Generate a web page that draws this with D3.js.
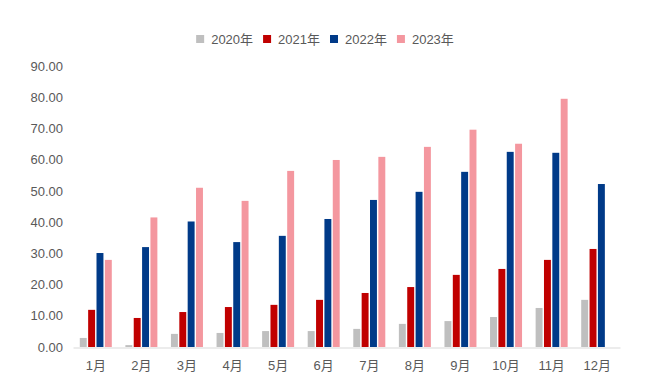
<!DOCTYPE html>
<html>
<head>
<meta charset="utf-8">
<script src="https://cdn.jsdelivr.net/npm/d3@7"></script>
<style>
  body { margin: 0; background: #fff; }
  text { font-family: "Liberation Sans", "Noto Sans CJK SC", sans-serif; }
</style>
</head>
<body>
<div class="container"></div>
<script>
const w = 647
const h = 388

const months = ["1月", "2月", "3月", "4月", "5月", "6月", "7月", "8月", "9月", "10月", "11月", "12月"]
const years = ["2020年", "2021年", "2022年", "2023年"]
const colors = ["#BFBFBF", "#C00000", "#003A88", "#F4979F"]

const v2020 = [2.9, 0.6, 4.2, 4.5, 5.1, 5.1, 5.8, 7.4, 8.3, 9.6, 12.5, 15.1]
const v2021 = [11.9, 9.3, 11.2, 12.8, 13.5, 15.1, 17.3, 19.2, 23.1, 25.0, 27.9, 31.4]
const v2022 = [30.1, 32.0, 40.2, 33.6, 35.6, 41.0, 47.1, 49.7, 56.1, 62.5, 62.2, 52.2]
const v2023 = [27.9, 41.5, 51.0, 46.8, 56.4, 59.9, 60.9, 64.1, 69.6, 65.1, 79.5, null]
const series = [v2020, v2021, v2022, v2023]

const yTicks = [0, 10, 20, 30, 40, 50, 60, 70, 80, 90]

const svg = d3.select(".container")
              .append("svg")
              .attr("width", w)
              .attr("height", h)

const x0 = d3.scaleBand()
             .domain(months)
             .range([73, 620])

const groupW = 32
const x1 = d3.scaleBand()
             .domain(years)
             .range([0, groupW])
             .paddingInner(0.17)

const y = d3.scaleLinear()
            .domain([0, 90])
            .range([347, 66])

// y labels, no axis line
const yAxis = d3.axisLeft(y)
                .tickValues(yTicks)
                .tickFormat(d3.format(".2f"))
                .tickSize(0)
                .tickPadding(0)

svg.append("g")
    .attr("transform", "translate(63, 0)")
    .call(yAxis)
    .call(g => g.select(".domain").remove())
    .selectAll("text")
      .attr("fill", "#595959")
      .style("font-size", "13px")

// bars
const rows = []
series.forEach((vals, i) => {
  vals.forEach((v, j) => {
    if (v != null) rows.push({ year: years[i], month: months[j], value: v, c: colors[i] })
  })
})

svg.append("g")
    .selectAll("rect")
    .data(rows)
    .enter()
    .append("rect")
      .attr("x", d => x0(d.month) + (x0.bandwidth() - groupW) / 2 + x1(d.year))
      .attr("y", d => y(d.value))
      .attr("width", x1.bandwidth())
      .attr("height", d => y(0) - y(d.value))
      .style("fill", d => d.c)

// x axis
const xAxis = d3.axisBottom(x0).tickSize(0).tickPadding(13)

svg.append("g")
    .attr("transform", `translate(0, ${y(0) + 0.5})`)
    .call(xAxis)
    .call(g => g.select(".domain").attr("stroke", "#D9D9D9"))
    .selectAll("text")
      .attr("fill", "#595959")
      .style("font-size", "13px")

// legend
const legend = svg.append("g")
                  .attr("id", "legend")

let lx = 0
years.forEach((yr, i) => {
  legend.append("rect")
    .attr("x", lx)
    .attr("y", 35)
    .attr("width", 8)
    .attr("height", 8)
    .style("fill", colors[i])
  const t = legend.append("text")
    .attr("x", lx + 15)
    .attr("y", 39)
    .attr("dy", "0.35em")
    .attr("fill", "#595959")
    .style("font-size", "13px")
    .text(yr)
  lx += 15 + t.node().getComputedTextLength() + 10
})
const lw = lx - 10
legend.attr("transform", `translate(${325 - lw / 2}, 0)`)
</script>
</body>
</html>
